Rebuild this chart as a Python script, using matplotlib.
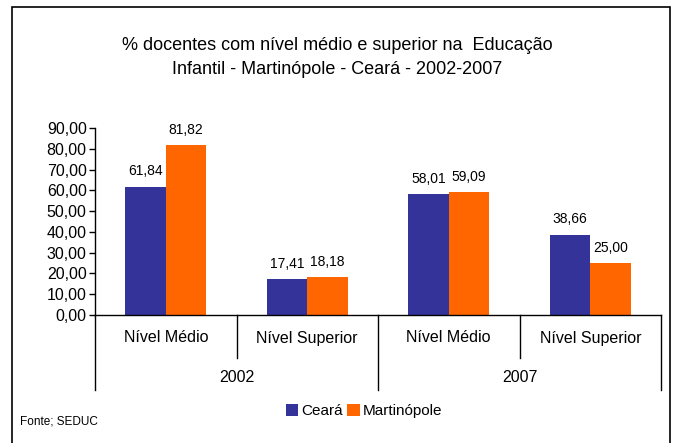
import matplotlib
matplotlib.use("Agg")
import matplotlib.pyplot as plt
from matplotlib.patches import Rectangle
import numpy as np

plt.rcParams['font.family'] = ['Liberation Sans', 'DejaVu Sans']

categories = ["Nível Médio", "Nível Superior", "Nível Médio", "Nível Superior"]
years = ["2002", "2007"]
ceara = [61.84, 17.41, 58.01, 38.66]
martinopole = [81.82, 18.18, 59.09, 25.00]
series_names = ["Ceará", "Martinópole"]
colors = ["#333399", "#FF6600"]
yticks = [0, 10, 20, 30, 40, 50, 60, 70, 80, 90]

W, H = 675, 443
fig = plt.figure(figsize=(W / 100, H / 100), dpi=100)

# border
fig.patches.append(Rectangle((12 / W, -0.02), (670 - 12) / W, 1 - 7 / H + 0.02,
                             transform=fig.transFigure, fill=False,
                             edgecolor="black", linewidth=1.2))

fig.text(337 / W, 1 - 45 / H, "% docentes com nível médio e superior na  Educação",
         ha="center", va="center", fontsize=13)
fig.text(337 / W, 1 - 70 / H, "Infantil - Martinópole - Ceará - 2002-2007",
         ha="center", va="center", fontsize=13)

ax_left, ax_right = 95, 661
ax_top, ax_bot = 128, 315
ax = fig.add_axes([ax_left / W, 1 - ax_bot / H, (ax_right - ax_left) / W,
                   (ax_bot - ax_top) / H])

x = np.arange(len(categories))
bw = 0.285
b1 = ax.bar(x - bw / 2, ceara, bw, color=colors[0], label=series_names[0])
b2 = ax.bar(x + bw / 2, martinopole, bw, color=colors[1], label=series_names[1])

for bars in (b1, b2):
    for r in bars:
        v = r.get_height()
        ax.annotate(f"{v:.2f}".replace(".", ","),
                    (r.get_x() + r.get_width() / 2, v),
                    xytext=(0, 11), textcoords="offset points",
                    ha="center", va="center", fontsize=10)

ax.set_xlim(-0.5, len(categories) - 0.5)
ax.set_ylim(0, 90)
ax.set_yticks(yticks)
ax.set_yticklabels([f"{t:.2f}".replace(".", ",") for t in yticks], fontsize=11.5)
ax.tick_params(axis="y", direction="out", length=4, width=1, pad=2)
ax.set_xticks([])
for s in ("top", "right"):
    ax.spines[s].set_visible(False)
ax.spines["left"].set_linewidth(1)
ax.spines["bottom"].set_linewidth(1)

trans = ax.get_xaxis_transform()
axh = ax_bot - ax_top
# level-1 dividers
for xd in [0.5, 2.5]:
    ax.plot([xd, xd], [0, -43 / axh], transform=trans, color="black",
            lw=1, clip_on=False)
# year dividers
for xd in [-0.5, 1.5, 3.5]:
    ax.plot([xd, xd], [0, -75 / axh], transform=trans, color="black",
            lw=1, clip_on=False)
for i, c in enumerate(categories):
    ax.text(i, -23 / axh, c, transform=trans, ha="center", va="center", fontsize=11.5)
for j, yname in enumerate(years):
    ax.text(2 * j + 0.5, -63 / axh, yname, transform=trans, ha="center",
            va="center", fontsize=11.5)

fig.legend(handles=[b1, b2], labels=series_names, loc="center",
           bbox_to_anchor=(364 / W, 1 - 411 / H), ncol=2, frameon=False,
           fontsize=11, handlelength=0.8, handleheight=0.8, handletextpad=0.2,
           columnspacing=0.3, borderpad=0)

fig.text(20 / W, 1 - 421 / H, "Fonte; SEDUC", ha="left", va="center", fontsize=8.5)

fig.savefig("out.png", dpi=100)
